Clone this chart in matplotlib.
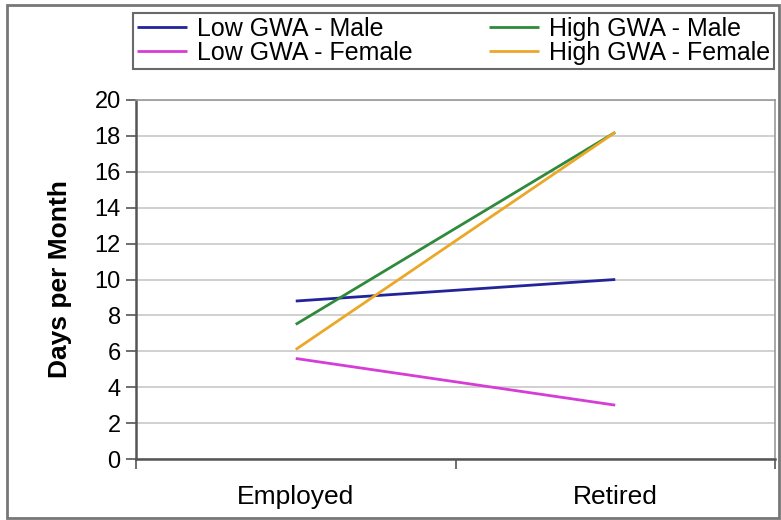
import matplotlib.pyplot as plt
from matplotlib.patches import Rectangle

# Data
categories = ["Employed", "Retired"]
series_names = ["Low GWA - Male", "High GWA - Male", "Low GWA - Female", "High GWA - Female"]
low_male = [8.8, 10.0]
high_male = [7.5, 18.2]
low_female = [5.6, 3.0]
high_female = [6.1, 18.2]
y_ticks = list(range(0, 21, 2))

colors = {
    "Low GWA - Male": "#23239a",
    "High GWA - Male": "#2f8a3c",
    "Low GWA - Female": "#d63cd6",
    "High GWA - Female": "#eba828",
}

plt.rcParams['font.family'] = ['Liberation Sans', 'DejaVu Sans']

fig = plt.figure(figsize=(7.81, 5.20), dpi=100)
W, H = 781, 520
ax = fig.add_axes([136 / W, 1 - 459 / H, (775 - 136) / W, (459 - 100) / H])

x = [0.5, 1.5]
values = {
    "Low GWA - Male": low_male,
    "High GWA - Male": high_male,
    "Low GWA - Female": low_female,
    "High GWA - Female": high_female,
}
lines = {}
for name in series_names:
    ln, = ax.plot(x, values[name], color=colors[name], lw=2, label=name,
                  solid_capstyle='butt', zorder=3)
    lines[name] = ln

ax.set_xlim(0, 2)
ax.set_ylim(0, 20)
ax.set_yticks(y_ticks)
ax.set_xticks([0, 1, 2])
ax.set_xticklabels([])
ax.set_xticks(x, minor=True)
ax.set_xticklabels(categories, minor=True, fontsize=19)
ax.tick_params(axis='x', which='minor', length=0, pad=19)
ax.tick_params(axis='x', which='major', direction='out', length=7, width=1.2, color='#555555')
ax.tick_params(axis='y', direction='out', length=7, width=1.2, color='#555555', labelsize=17, pad=4)

ax.grid(axis='y', color='#c8c8c8', lw=1.2, zorder=0)
ax.set_axisbelow(True)
for s in ['top', 'right']:
    ax.spines[s].set_color('#999999')
    ax.spines[s].set_linewidth(1.2)
for s in ['left', 'bottom']:
    ax.spines[s].set_color('#555555')
    ax.spines[s].set_linewidth(1.8)

ax.set_ylabel("Days per Month", fontsize=19, fontweight='bold', labelpad=16)

# legend in two columns, ordered row-wise
order = ["Low GWA - Male", "Low GWA - Female", "High GWA - Male", "High GWA - Female"]
leg = fig.legend([lines[n] for n in order], order, ncol=2,
                 loc='upper left', bbox_to_anchor=(133 / W, 1 - 13 / H, (774 - 133) / W, 0),
                 mode='expand', fontsize=18, frameon=True, fancybox=False,
                 borderpad=0.15, labelspacing=0.0, handlelength=2.0, handletextpad=0.4,
                 columnspacing=1.0, borderaxespad=0)
leg.get_frame().set_edgecolor('#444444')
leg.get_frame().set_linewidth(1.5)

# outer chart border
fig.patches.append(Rectangle((7 / W, 2 / H), (779 - 7) / W, (515 - 2) / H,
                             transform=fig.transFigure, fill=False,
                             edgecolor='#777777', lw=2))

fig.savefig("out.png", dpi=100)
